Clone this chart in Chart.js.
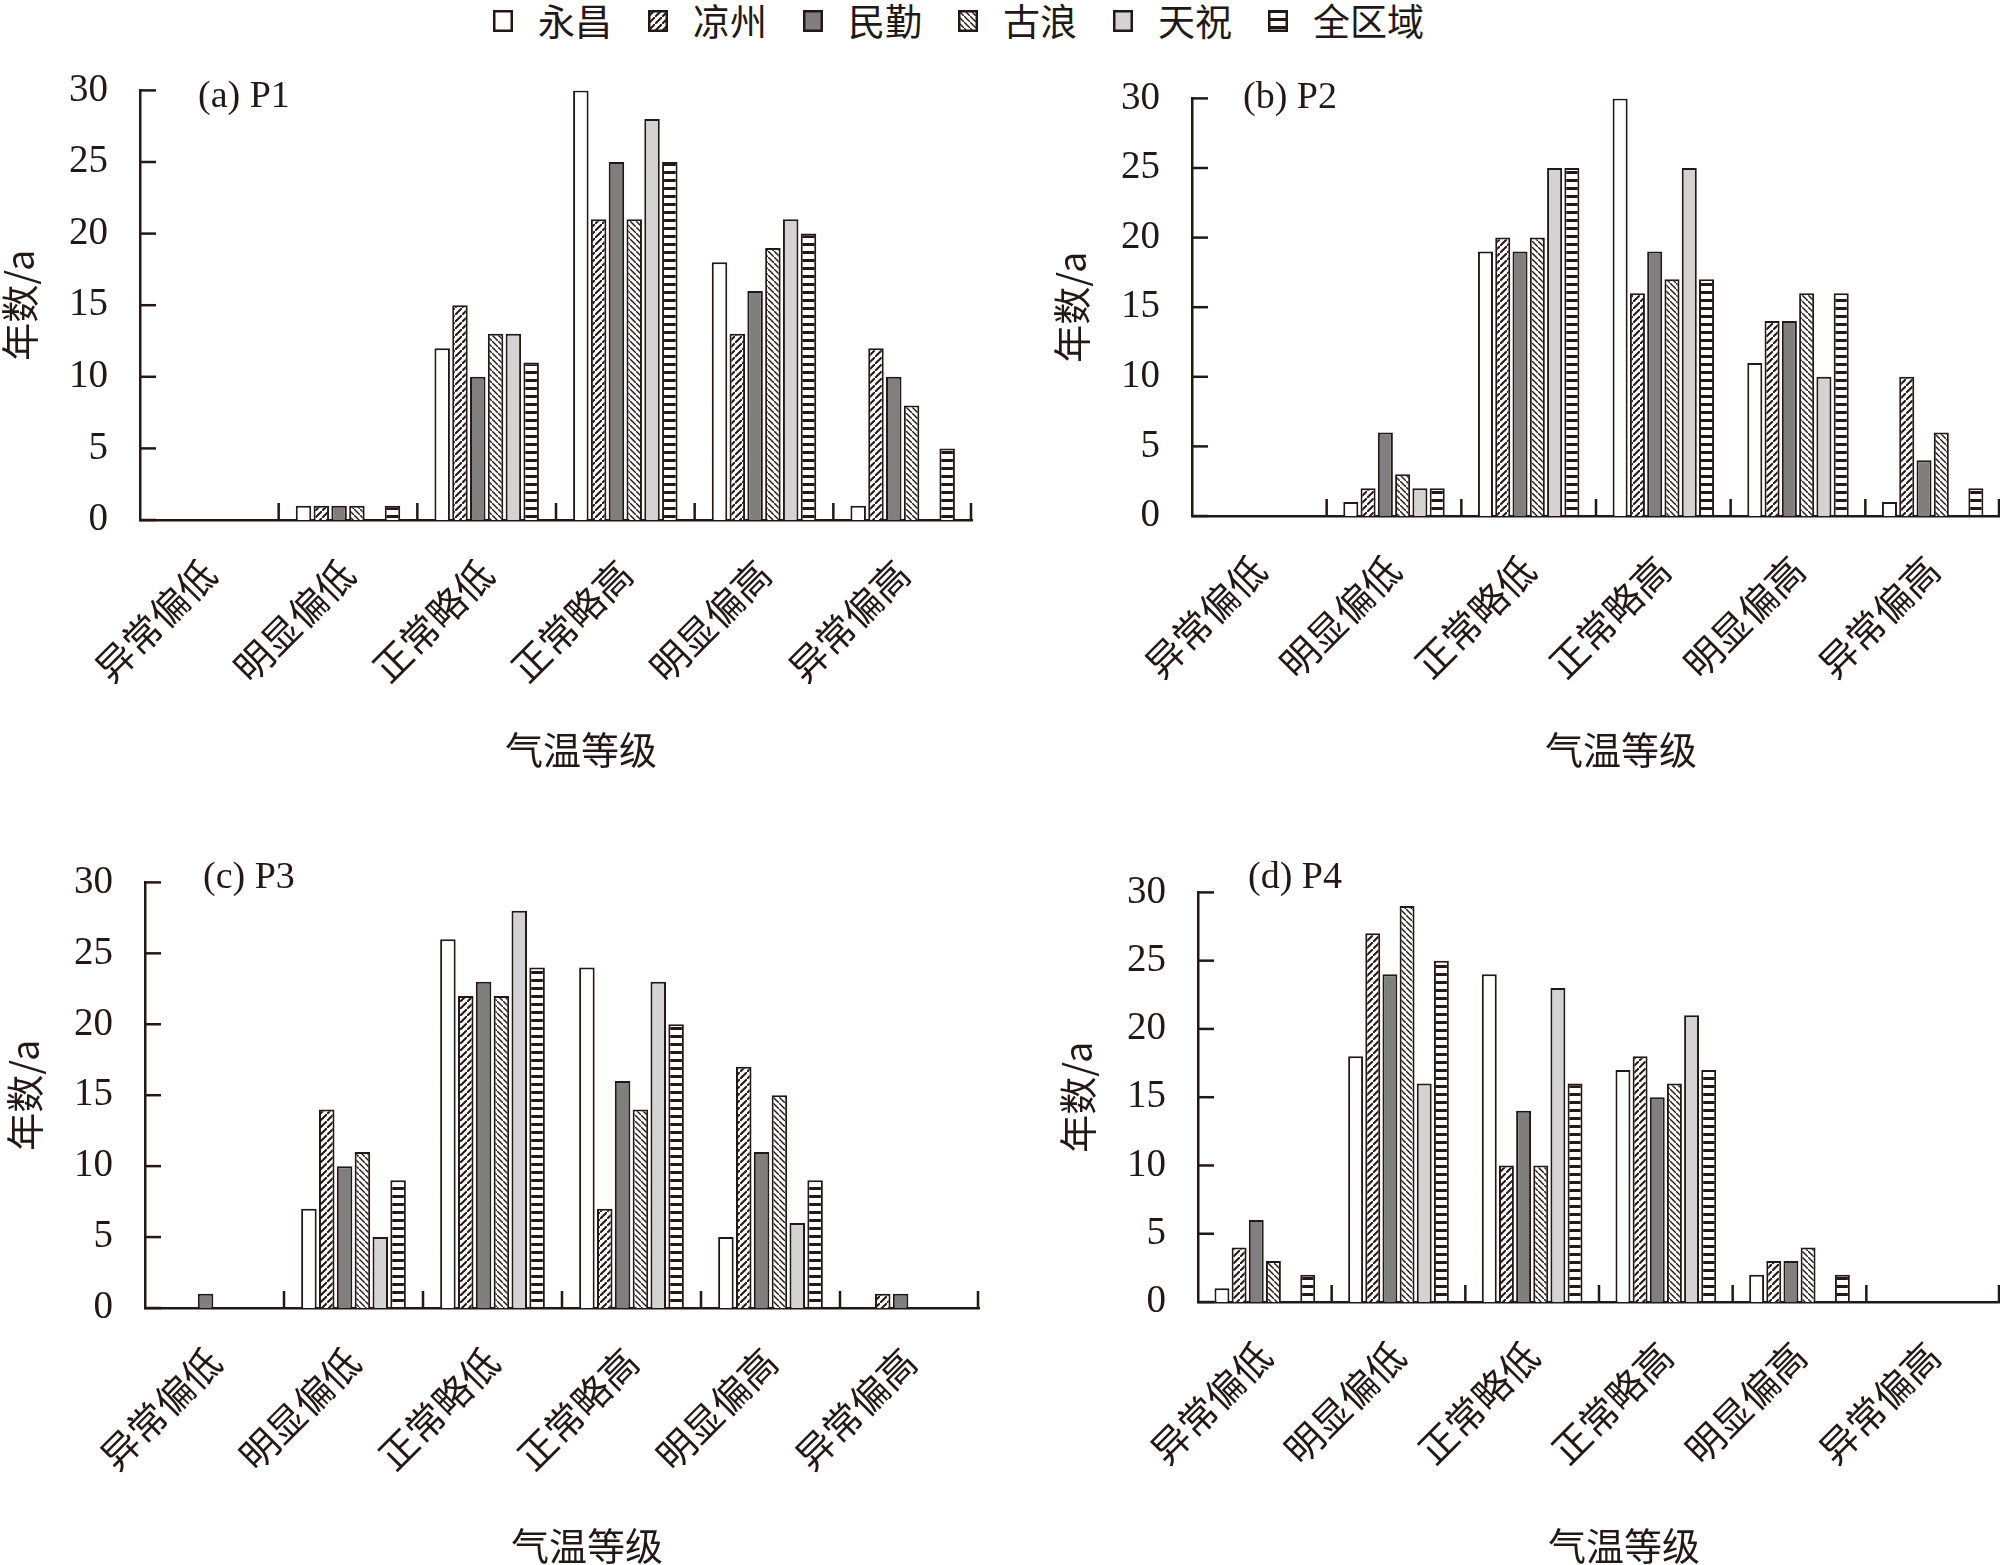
<!DOCTYPE html>
<html>
<head>
<meta charset="utf-8">
<script src="https://cdn.jsdelivr.net/npm/chart.js@4.4.1/dist/chart.umd.min.js"></script>
<style>
html,body{margin:0;padding:0;background:#fff;}
body{width:2000px;height:1565px;position:relative;overflow:hidden;font-family:"Noto Sans CJK SC",sans-serif;color:#231815;}
canvas.panel{position:absolute;}
#legend{position:absolute;left:493px;top:0;height:40px;display:flex;align-items:center;font-size:37px;line-height:40px;white-space:nowrap;}
#legend .item{display:flex;align-items:center;margin-right:36px;}
#legend canvas{display:block;margin-right:25px;margin-top:2px;}
</style>
</head>
<body>
<div id="legend"></div>
<canvas class="panel" id="pa"></canvas>
<canvas class="panel" id="pb"></canvas>
<canvas class="panel" id="pc"></canvas>
<canvas class="panel" id="pd"></canvas>
<script>
// ---------------- data ----------------
const categories = ['异常偏低', '明显偏低', '正常略低', '正常略高', '明显偏高', '异常偏高'];
const seriesNames = ['永昌', '凉州', '民勤', '古浪', '天祝', '全区域'];
const yTickValues = [0, 5, 10, 15, 20, 25, 30];
const panelTitles = ['(a) P1', '(b) P2', '(c) P3', '(d) P4'];
const xAxisTitle = '气温等级';
const yAxisTitle = '年数/a';

// rows: 永昌, 凉州, 民勤, 古浪, 天祝, 全区域 ; columns follow categories
const valuesP1 = [
  [0, 1, 12, 30, 18, 1],
  [0, 1, 15, 21, 13, 12],
  [0, 1, 10, 25, 16, 10],
  [0, 1, 13, 21, 19, 8],
  [0, 0, 13, 28, 21, 0],
  [0, 1, 11, 25, 20, 5]
];
const valuesP2 = [
  [0, 1, 19, 30, 11, 1],
  [0, 2, 20, 16, 14, 10],
  [0, 6, 19, 19, 14, 4],
  [0, 3, 20, 17, 16, 6],
  [0, 2, 25, 25, 10, 0],
  [0, 2, 25, 17, 16, 2]
];
const valuesP3 = [
  [0, 7, 26, 24, 5, 0],
  [0, 14, 22, 7, 17, 1],
  [1, 10, 23, 16, 11, 1],
  [0, 11, 22, 14, 15, 0],
  [0, 5, 28, 23, 6, 0],
  [0, 9, 24, 20, 9, 0]
];
const valuesP4 = [
  [1, 18, 24, 17, 2, 0],
  [4, 27, 10, 18, 3, 0],
  [6, 24, 14, 15, 3, 0],
  [3, 29, 10, 16, 4, 0],
  [0, 16, 23, 21, 0, 0],
  [2, 25, 16, 17, 2, 0]
];
const panelValues = [valuesP1, valuesP2, valuesP3, valuesP4];

// ---------------- styles ----------------
const ink = '#231815';
const cjk = '"Noto Sans CJK SC", sans-serif';
const serif = '"Liberation Serif", "DejaVu Serif", serif';

function makeFill(kind) {
  if (kind === 'white') return '#ffffff';
  if (kind === 'dark') return '#7f7f7f';
  if (kind === 'light') return '#d3d3d3';
  const c = document.createElement('canvas');
  const g = c.getContext('2d');
  if (kind === 'slash') {
    c.width = 7; c.height = 7;
    g.fillStyle = '#fff'; g.fillRect(0, 0, 7, 7);
    g.strokeStyle = ink; g.lineWidth = 2;
    g.beginPath();
    g.moveTo(-2, 9); g.lineTo(9, -2);
    g.stroke();
  } else if (kind === 'backslash') {
    c.width = 6; c.height = 6;
    g.fillStyle = '#fff'; g.fillRect(0, 0, 6, 6);
    g.strokeStyle = ink; g.lineWidth = 1.4;
    g.beginPath();
    g.moveTo(-2, -2); g.lineTo(8, 8);
    g.stroke();
  } else if (kind === 'hstripe') {
    c.width = 4; c.height = 8;
    g.fillStyle = '#fff'; g.fillRect(0, 0, 4, 8);
    g.fillStyle = ink; g.fillRect(0, 0, 4, 3);
  }
  return g.createPattern(c, 'repeat');
}
const fillKinds = ['white', 'slash', 'dark', 'backslash', 'light', 'hstripe'];
const fills = fillKinds.map(makeFill);

// ---------------- legend ----------------
const legend = document.getElementById('legend');
seriesNames.forEach((name, i) => {
  const item = document.createElement('div');
  item.className = 'item';
  const sw = document.createElement('canvas');
  sw.width = 20; sw.height = 22;
  const g = sw.getContext('2d');
  g.fillStyle = fills[i];
  g.fillRect(0, 0, 20, 22);
  g.strokeStyle = ink; g.lineWidth = 2.5;
  g.strokeRect(1.25, 1.25, 17.5, 19.5);
  const t = document.createElement('span');
  t.textContent = name;
  item.appendChild(sw); item.appendChild(t);
  legend.appendChild(item);
});

// ---------------- decoration plugin ----------------
const decorPlugin = {
  id: 'decor',
  afterDraw(chart, args, opts) {
    const { ctx, chartArea, scales } = chart;
    const x = scales.x, y = scales.y;
    ctx.save();
    ctx.strokeStyle = ink;
    ctx.lineWidth = 2.5;
    // inward y tick marks
    y.ticks.forEach((t, i) => {
      const py = y.getPixelForTick(i);
      ctx.beginPath();
      ctx.moveTo(chartArea.left, py);
      ctx.lineTo(chartArea.left + 16, py);
      ctx.stroke();
    });
    // category separators rising from the x axis
    const n = x.ticks.length;
    for (let i = 0; i < n; i++) {
      const px = i < n - 1 ? (x.getPixelForTick(i) + x.getPixelForTick(i + 1)) / 2 : chartArea.right - 1;
      ctx.beginPath();
      ctx.moveTo(px, chartArea.bottom);
      ctx.lineTo(px, chartArea.bottom - 17);
      ctx.stroke();
    }
    ctx.fillStyle = ink;
    // panel title
    ctx.font = '38px ' + serif;
    ctx.textAlign = 'left';
    ctx.textBaseline = 'middle';
    ctx.fillText(opts.text, chartArea.left + opts.dx, chartArea.top + opts.dy);
    // x axis title
    ctx.font = '38px ' + cjk;
    ctx.textAlign = 'center';
    ctx.fillText(opts.xTitle, (chartArea.left + chartArea.right) / 2 + 25, chartArea.bottom + opts.xTitleOffset);
    ctx.restore();
  }
};

// ---------------- panels ----------------
// axis left, axis top (value 30), axis right, axis bottom (value 0), x-scale height, title offsets
const layouts = [
  { id: 'pa', left: 140, top: 90, right: 972, bottom: 520, xh: 260, canvasRight: 1000, dx: 58, dy: 7, xt: 230 },
  { id: 'pb', left: 1192, top: 98, right: 2000, bottom: 516, xh: 264, canvasRight: 2000, dx: 51, dy: 0, xt: 234 },
  { id: 'pc', left: 145, top: 882, right: 979, bottom: 1308, xh: 268, canvasRight: 1000, dx: 58, dy: -4, xt: 238 },
  { id: 'pd', left: 1198, top: 892, right: 2000, bottom: 1302, xh: 274, canvasRight: 2000, dx: 50, dy: -14, xt: 244 }
];
const Y_SCALE_W = 140;

function buildPanel(L, p, cv, w, h) {
  cv.width = w; cv.height = h;
  cv.style.width = w + 'px';
  cv.style.height = h + 'px';
  const datasets = seriesNames.map((name, i) => ({
    label: name,
    data: panelValues[p][i],
    backgroundColor: fills[i],
    borderColor: ink,
    borderWidth: 2,
    borderSkipped: 'start',
    categoryPercentage: 0.77,
    barPercentage: 0.87
  }));
  return new Chart(cv, {
    type: 'bar',
    data: { labels: categories, datasets },
    plugins: [decorPlugin],
    options: {
      responsive: false,
      maintainAspectRatio: false,
      animation: false,
      devicePixelRatio: 1,
      events: [],
      layout: { padding: { top: 0, right: L.canvasRight - L.right, bottom: 0, left: 0 } },
      plugins: {
        legend: { display: false },
        tooltip: { enabled: false },
        decor: { text: panelTitles[p], dx: L.dx, dy: L.dy, xTitle: xAxisTitle, xTitleOffset: L.xt }
      },
      scales: {
        x: {
          type: 'category',
          offset: true,
          grid: { display: false, drawTicks: false },
          border: { display: true, color: ink, width: 2.5 },
          ticks: {
            autoSkip: false, minRotation: 45, maxRotation: 45,
            padding: 31, color: ink,
            font: { family: cjk, size: 38 }
          },
          title: { display: false },
          afterFit(s) { s.height = L.xh; }
        },
        y: {
          min: 0, max: 30,
          grid: { display: false, drawTicks: false },
          border: { display: true, color: ink, width: 2.5 },
          afterBuildTicks(s) { s.ticks = yTickValues.map(v => ({ value: v })); },
          ticks: {
            padding: 32, color: ink,
            font: { family: serif, size: 39 }
          },
          title: {
            display: true, text: yAxisTitle, color: ink,
            font: { family: cjk, size: 38, lineHeight: 1 },
            padding: { top: 1, bottom: 0 }
          },
          afterFit(s) { s.width = Y_SCALE_W; }
        }
      }
    }
  });
}

layouts.forEach((L, p) => {
  const cv = document.getElementById(L.id);
  const w = L.canvasRight - (L.left - Y_SCALE_W);
  let h = Math.round(23 + (L.bottom - L.top) + L.xh);
  let chart = buildPanel(L, p, cv, w, h);
  // rebuild once so that the plotting area has the reference height
  const areaH = chart.chartArea.bottom - chart.chartArea.top;
  const diff = (L.bottom - L.top) - areaH;
  if (Math.abs(diff) > 0.5) {
    chart.destroy();
    h = Math.round(h + diff);
    chart = buildPanel(L, p, cv, w, h);
  }
  const area = chart.chartArea;
  cv.style.top = (L.top - area.top) + 'px';
  cv.style.left = (L.left - area.left) + 'px';
});
</script>
</body>
</html>
